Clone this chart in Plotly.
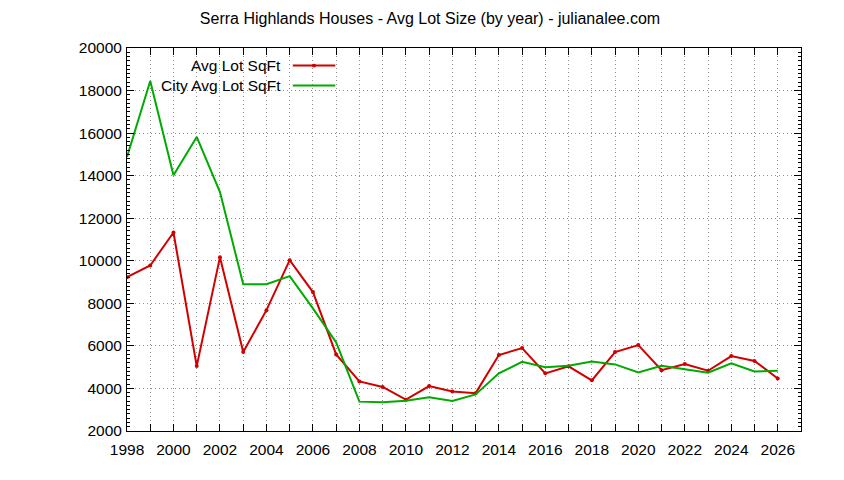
import plotly.graph_objects as go

years = list(range(1998, 2027))

avg_lot = [9230, 9780, 11330, 5050, 10170, 5710, 7680, 10030, 8530, 5600,
           4330, 4070, 3470, 4110, 3860, 3780, 5570, 5900, 4710, 5040,
           4380, 5710, 6040, 4860, 5150, 4830, 5520, 5290, 4470]

city_avg_lot = [14880, 18450, 14020, 15820, 13230, 8900, 8900, 9280, 7760, 6160,
                3380, 3350, 3420, 3580, 3410, 3720, 4710, 5250, 5000, 5070,
                5270, 5130, 4750, 5070, 4900, 4740, 5180, 4800, 4830]

series_names = ["Avg Lot SqFt", "City Avg Lot SqFt"]
title_text = "Serra Highlands Houses - Avg Lot Size (by year) - julianalee.com"

RED = "#d00000"
GREEN = "#00aa00"
FONT = "Liberation Sans"

fig = go.Figure()

fig.add_trace(go.Scatter(
    x=years, y=avg_lot, mode="lines+markers", name=series_names[0],
    line=dict(color=RED, width=2),
    marker=dict(color=RED, size=4, symbol="circle"),
))

fig.add_trace(go.Scatter(
    x=years, y=city_avg_lot, mode="lines", name=series_names[1],
    line=dict(color=GREEN, width=2),
))

# legend drawn by hand (text right aligned, sample on the right)
leg_text_x = 0.2315
leg_x0, leg_x1 = 0.246, 0.309
leg_rows = [0.954, 0.902]
for name, col, yy in zip(series_names, [RED, GREEN], leg_rows):
    fig.add_annotation(xref="paper", yref="paper", x=leg_text_x, y=yy, text=name,
                       showarrow=False, xanchor="right", yanchor="middle",
                       font=dict(family=FONT, size=15.5, color="black"))
    fig.add_shape(type="line", xref="paper", yref="paper", x0=leg_x0, x1=leg_x1,
                  y0=yy, y1=yy, line=dict(color=col, width=2))
fig.add_shape(type="circle", xref="paper", yref="paper",
              x0=(leg_x0 + leg_x1) / 2 - 0.003, x1=(leg_x0 + leg_x1) / 2 + 0.003,
              y0=leg_rows[0] - 0.0052, y1=leg_rows[0] + 0.0052,
              fillcolor=RED, line=dict(color=RED, width=0))

grid = dict(gridcolor="#909090", griddash="1px,3px", gridwidth=1)

fig.update_layout(
    width=844, height=480,
    margin=dict(l=119, r=51, t=40, b=57),
    paper_bgcolor="white", plot_bgcolor="white",
    showlegend=False,
    title=dict(text=title_text, x=0.5, xanchor="center", y=0.979, yanchor="middle",
               font=dict(family=FONT, size=16, color="black")),
    font=dict(family=FONT, size=15.5, color="black"),
    xaxis=dict(
        range=[1998, 2027], tick0=1998, dtick=2,
        ticks="inside", ticklen=7, tickcolor="black",
        showline=True, linecolor="black", linewidth=1, mirror="ticks",
        showgrid=True, zeroline=False, **grid,
        minor=dict(dtick=1, ticks="inside", ticklen=7, tickcolor="black",
                   showgrid=True, **grid),
        ticklabelstandoff=4,
    ),
    yaxis=dict(
        range=[2000, 20000], tick0=2000, dtick=2000, tickformat="d",
        ticks="inside", ticklen=7, tickcolor="black",
        showline=True, linecolor="black", linewidth=1, mirror="ticks",
        showgrid=True, zeroline=False, **grid,
        minor=dict(dtick=200, ticks="inside", ticklen=3, tickcolor="black",
                   showgrid=False),
        ticklabelstandoff=1,
    ),
)

fig.write_html("out.html")
